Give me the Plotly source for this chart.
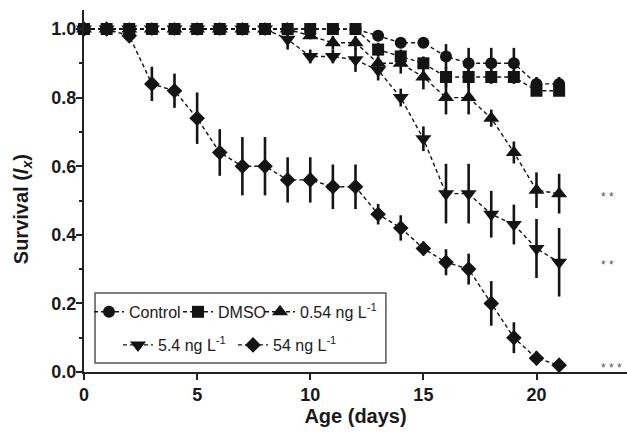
import plotly.graph_objects as go

days = [0, 1, 2, 3, 4, 5, 6, 7, 8, 9, 10, 11, 12, 13, 14, 15, 16, 17, 18, 19, 20, 21]

control = [1.00, 1.00, 1.00, 1.00, 1.00, 1.00, 1.00, 1.00, 1.00, 1.00, 1.00, 1.00, 1.00,
           0.98, 0.96, 0.96, 0.92, 0.90, 0.90, 0.90, 0.84, 0.84]
control_err = [0, 0, 0, 0, 0, 0, 0, 0, 0, 0, 0, 0, 0,
               0.01, 0.015, 0.015, 0.036, 0.045, 0.045, 0.045, 0.02, 0.02]

dmso = [1.00, 1.00, 1.00, 1.00, 1.00, 1.00, 1.00, 1.00, 1.00, 1.00, 1.00, 1.00, 1.00,
        0.94, 0.92, 0.90, 0.86, 0.86, 0.86, 0.86, 0.82, 0.82]
dmso_err = [0, 0, 0, 0, 0, 0, 0, 0, 0, 0, 0, 0, 0,
            0.02, 0.02, 0.02, 0.03, 0.03, 0.02, 0.02, 0.015, 0.015]

low = [1.00, 1.00, 1.00, 1.00, 1.00, 1.00, 1.00, 1.00, 1.00, 1.00,
       0.98, 0.96, 0.96, 0.90, 0.90, 0.86, 0.80, 0.80, 0.74, 0.64, 0.53, 0.52]
low_err = [0, 0, 0, 0, 0, 0, 0, 0, 0, 0,
           0.01, 0.02, 0.02, 0.02, 0.03, 0.036, 0.049, 0.049, 0.025, 0.032, 0.052, 0.058]

mid = [1.00, 1.00, 1.00, 1.00, 1.00, 1.00, 1.00, 1.00, 1.00,
       0.97, 0.92, 0.92, 0.91, 0.88, 0.80, 0.68, 0.52, 0.52, 0.46, 0.43, 0.36, 0.32]
mid_err = [0, 0, 0, 0, 0, 0, 0, 0, 0,
           0.03, 0.02, 0.02, 0.035, 0.03, 0.026, 0.036, 0.087, 0.087, 0.068, 0.058, 0.086, 0.10]

high = [1.00, 1.00, 0.98, 0.84, 0.82, 0.74, 0.64, 0.60, 0.60, 0.56, 0.56, 0.54, 0.54,
        0.46, 0.42, 0.36, 0.32, 0.30, 0.20, 0.10, 0.04, 0.02]
high_err = [0, 0, 0.01, 0.05, 0.05, 0.075, 0.068, 0.085, 0.085, 0.066, 0.066, 0.065, 0.065,
            0.03, 0.037, 0.02, 0.038, 0.045, 0.065, 0.045, 0.02, 0.01]

series_names = ["Control", "DMSO", "0.54 ng L<sup>-1</sup>", "5.4 ng L<sup>-1</sup>", "54 ng L<sup>-1</sup>"]
x_ticks = [0, 5, 10, 15, 20]
y_ticks = [0.0, 0.2, 0.4, 0.6, 0.8, 1.0]
sig_labels = ["* *", "* *", "* * *"]

FONT = "Liberation Sans, Arial, Helvetica, sans-serif"
INK = "#141414"

fig = go.Figure()

specs = [
    (control, control_err, "circle", 12, "legend"),
    (dmso, dmso_err, "square", 12, "legend2"),
    (low, low_err, "triangle-up", 14, "legend3"),
    (mid, mid_err, "triangle-down", 14, "legend4"),
    (high, high_err, "diamond", 12, "legend5"),
]

for (vals, errs, sym, size, leg), name in zip(specs, series_names):
    fig.add_trace(go.Scatter(
        x=days, y=vals, name=name, mode="lines+markers",
        line=dict(color=INK, width=1.4, dash="4px,3px"),
        marker=dict(symbol=sym, size=size, color=INK, line=dict(width=0)),
        error_y=dict(type="data", array=errs, visible=True, color=INK, thickness=2.6, width=0),
        cliponaxis=False, legend=leg,
    ))

# significance marks beside final values
for vals, lab in zip([low, mid, high], sig_labels):
    fig.add_annotation(x=22.8, y=vals[-1], text=lab, showarrow=False, xanchor="left",
                       yanchor="middle", yshift=-3, borderpad=0,
                       font=dict(size=12, color="#555555", family=FONT))

# y axis title
fig.add_annotation(xref="paper", yref="paper", x=-0.114, y=0.45, textangle=-90,
                   xanchor="center", yanchor="middle",
                   text="<b>Survival (<i>l</i><sub><i>x</i></sub>)</b>", showarrow=False,
                   font=dict(size=20, color="#1a1a1a", family=FONT))

# legend frame
fig.add_shape(type="rect", xref="paper", yref="paper", x0=0.0203, x1=0.556, y0=0.0249, y1=0.218,
              line=dict(color="#555555", width=1.5), fillcolor="rgba(0,0,0,0)", layer="above")


def legend_box(px_x, row_y):
    return dict(orientation="h", x=(px_x - 84) / 543, y=row_y, xanchor="left", yanchor="middle",
                bgcolor="rgba(0,0,0,0)", borderwidth=0, itemwidth=30,
                font=dict(size=16, family=FONT, color="#1a1a1a"))


fig.update_layout(
    width=627, height=434,
    margin=dict(l=84, r=0, t=10, b=62),
    plot_bgcolor="white", paper_bgcolor="white",
    font=dict(family=FONT, color="#1a1a1a"),
    showlegend=True,
    legend=legend_box(89, 0.166),
    legend2=legend_box(178, 0.166),
    legend3=legend_box(260, 0.166),
    legend4=legend_box(118, 0.0746),
    legend5=legend_box(233, 0.0746),
    xaxis=dict(range=[0, 24], tickvals=x_ticks, ticktext=[str(v) for v in x_ticks],
               showgrid=False, zeroline=False, showline=True, linecolor="#222222", linewidth=2,
               ticks="outside", ticklen=6, tickwidth=2, tickcolor="#222222",
               tickfont=dict(size=18, family=FONT, weight="bold", color="#1a1a1a"),
               ticklabelstandoff=-1,
               title=dict(text="<b>Age (days)</b>", font=dict(size=20, family=FONT, color="#1a1a1a"),
                          standoff=0)),
    yaxis=dict(range=[0, 1.0554], tickvals=y_ticks, ticktext=[f"{v:.1f}" for v in y_ticks],
               showgrid=False, zeroline=False, showline=True, linecolor="#222222", linewidth=2,
               ticks="outside", ticklen=6, tickwidth=2, tickcolor="#222222",
               tickfont=dict(size=18, family=FONT, weight="bold", color="#1a1a1a"),
               minor=dict(dtick=0.1, tick0=0, ticks="outside", ticklen=3, tickwidth=2, tickcolor="#222222"),
               ticklabelstandoff=-4),
)

fig.write_html("out.html", config={"displayModeBar": False},
               post_script="document.body.style.margin='0';")
